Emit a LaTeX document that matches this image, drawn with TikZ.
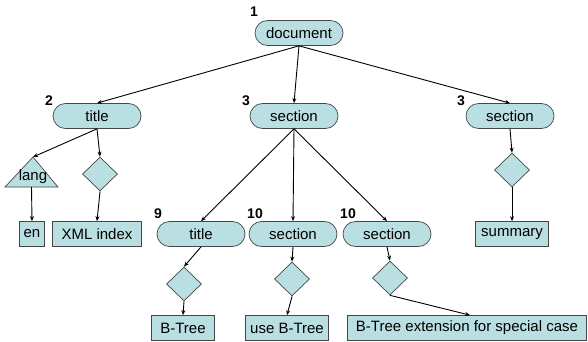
\documentclass[tikz,border=0pt]{standalone}
\usepackage{fontspec}
\setmainfont{Liberation Sans}
\usetikzlibrary{arrows.meta,shapes.geometric}
\definecolor{boxfill}{RGB}{185,223,227}
\definecolor{boxline}{RGB}{70,70,70}

\begin{document}
\begin{tikzpicture}[x=1pt,y=-1pt,
elem/.style={rectangle,rounded corners=12.5pt,fill=boxfill,draw=boxline,line width=0.7pt,minimum width=88pt,minimum height=25pt,inner sep=0pt,font=\fontsize{15}{18}\selectfont},
leaf/.style={rectangle,fill=boxfill,draw=boxline,line width=0.7pt,minimum height=25pt,inner sep=0pt,font=\fontsize{15}{18}\selectfont},
cond/.style={diamond,aspect=1,fill=boxfill,draw=boxline,line width=0.7pt,minimum width=35pt,minimum height=34pt,inner sep=0pt},
attr/.style={fill=boxfill,draw=boxline,line width=0.7pt},
attrtext/.style={font=\fontsize{15}{18}\selectfont,inner sep=0pt},
num/.style={font=\fontsize{14}{16}\bfseries\selectfont,inner sep=0pt},
myedge/.style={-{Stealth[length=5pt,width=4pt]},line width=0.9pt}]
\useasboundingbox (0,0) rectangle (588,342);
% element nodes
\node[elem] (doc) at (299, 33) {document};
\node[elem] (ttl) at ( 97,116) {title};
\node[elem] (sec) at (294,116) {section};
\node[elem] (sum) at (510,116) {section};
\node[elem] (sttl) at (201,234) {title};
\node[elem] (ssa) at (293,234) {section};
\node[elem] (ssb) at (387,234) {section};
% numbers
\node[num] (n1) at (254, 12) {1};
\node[num] (n2) at ( 49,101) {2};
\node[num] (n3) at (246,101) {3};
\node[num] (n3b) at (461,101) {3};
\node[num] (n9) at (158,214) {9};
\node[num] (n10) at (255,214) {10};
\node[num] (n10b) at (348,214) {10};
% attribute and content
\draw[attr] (33,157) coordinate (langtop) -- (58,187) -- (5,187) coordinate[pos=0.5] (langbot) -- cycle;
\node[attrtext] (lang) at (33,177) {lang};
\node[cond] (dttl) at (100,174) {};
\node[cond] (dsum) at (512,170) {};
\node[cond] (dsttl) at (184,284) {};
\node[cond] (dssa) at (292,279) {};
\node[cond] (dssb) at (390,278) {};
\node[leaf,minimum width=25pt] (en) at (32,234) {en};
\node[leaf,minimum width=89pt] (xml) at (97,234) {XML index};
\node[leaf,minimum width=73pt] (summ) at (512,234) {summary};
\node[leaf,minimum width=63pt] (bt) at (183,328) {B-Tree};
\node[leaf,minimum width=83pt] (ubt) at (287,328) {use B-Tree};
\node[leaf,minimum width=239pt] (ext) at (467,328) {B-Tree extension for special case};
% edges
\draw[myedge] (doc.south) -- (ttl.north);
\draw[myedge] (doc.south) -- (sec.north);
\draw[myedge] (doc.south) -- (sum.north);
\draw[myedge] (ttl.south) -- (langtop);
\draw[myedge] (ttl.south) -- (dttl.north);
\draw[myedge] (langbot) -- (en.north);
\draw[myedge] (dttl.south) -- (xml.north);
\draw[myedge] (sum.south) -- (dsum.north);
\draw[myedge] (dsum.south) -- (summ.north);
\draw[myedge] (sec.south) -- (sttl.north);
\draw[myedge] (sec.south) -- (ssa.north);
\draw[myedge] (sec.south) -- (ssb.north);
\draw[myedge] (sttl.south) -- (dsttl.north);
\draw[myedge] (ssa.south) -- (dssa.north);
\draw[myedge] (ssb.south) -- (dssb.north);
\draw[myedge] (dsttl.south) -- (bt.north);
\draw[myedge] (dssa.south) -- (ubt.north);
\draw[myedge] (dssb.south) -- ([xshift=3pt]ext.north);
\end{tikzpicture}
\end{document}
